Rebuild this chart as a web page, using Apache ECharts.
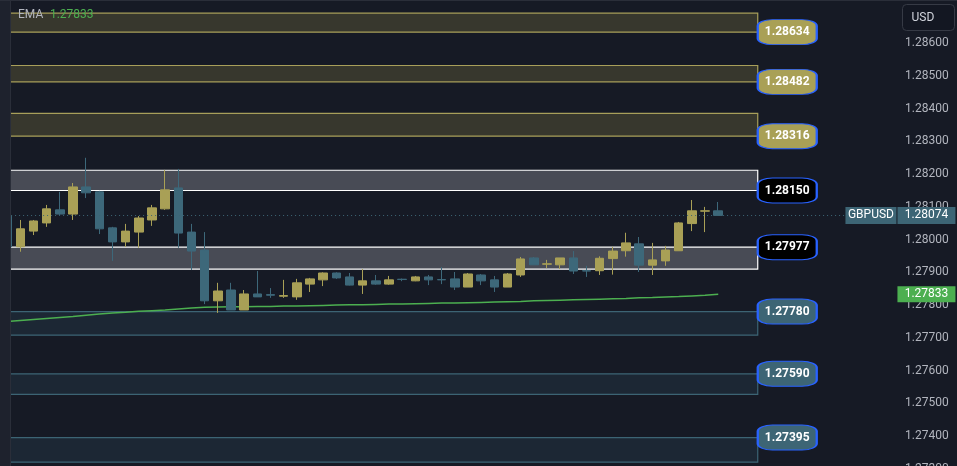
<!DOCTYPE html>
<html><head><meta charset="utf-8">
<script src="https://cdn.jsdelivr.net/npm/echarts@6/dist/echarts.min.js"></script>
<style>html,body{margin:0;padding:0;background:#161a25;}#c{width:957px;height:466px;}</style>
</head><body><div id="c"></div><script>
// Candles: [open, close, low, high]
const candles = [
  [1.28072, 1.27978, 1.27975, 1.28080],
  [1.27978, 1.28033, 1.27963, 1.28060],
  [1.28026, 1.28057, 1.28014, 1.28060],
  [1.28051, 1.28094, 1.28039, 1.28106],
  [1.28091, 1.28078, 1.28075, 1.28146],
  [1.28078, 1.28161, 1.28060, 1.28173],
  [1.28161, 1.28143, 1.28127, 1.28250],
  [1.28146, 1.28033, 1.28017, 1.28149],
  [1.28036, 1.27993, 1.27935, 1.28039],
  [1.27993, 1.28026, 1.27978, 1.28048],
  [1.28023, 1.28066, 1.27975, 1.28072],
  [1.28060, 1.28097, 1.28042, 1.28106],
  [1.28094, 1.28152, 1.28091, 1.28213],
  [1.28158, 1.28020, 1.27975, 1.28216],
  [1.28023, 1.27965, 1.27907, 1.28048],
  [1.27968, 1.27813, 1.27803, 1.28023],
  [1.27813, 1.27843, 1.27776, 1.27868],
  [1.27846, 1.27785, 1.27785, 1.27868],
  [1.27785, 1.27834, 1.27785, 1.27846],
  [1.27834, 1.27825, 1.27825, 1.27904],
  [1.27832, 1.27830, 1.27822, 1.27852],
  [1.27827, 1.27829, 1.27822, 1.27877],
  [1.27825, 1.27868, 1.27816, 1.27880],
  [1.27864, 1.27880, 1.27840, 1.27883],
  [1.27877, 1.27898, 1.27858, 1.27900],
  [1.27898, 1.27883, 1.27880, 1.27900],
  [1.27886, 1.27861, 1.27860, 1.27898],
  [1.27861, 1.27874, 1.27834, 1.27910],
  [1.27874, 1.27864, 1.27862, 1.27892],
  [1.27864, 1.27877, 1.27862, 1.27889],
  [1.27879, 1.27878, 1.27873, 1.27881],
  [1.27874, 1.27886, 1.27873, 1.27889],
  [1.27886, 1.27877, 1.27861, 1.27892],
  [1.27878, 1.27877, 1.27864, 1.27916],
  [1.27880, 1.27855, 1.27846, 1.27901],
  [1.27855, 1.27895, 1.27855, 1.27898],
  [1.27892, 1.27874, 1.27861, 1.27895],
  [1.27877, 1.27855, 1.27840, 1.27889],
  [1.27855, 1.27895, 1.27855, 1.27898],
  [1.27892, 1.27941, 1.27886, 1.27947],
  [1.27944, 1.27923, 1.27923, 1.27947],
  [1.27925, 1.27926, 1.27913, 1.27938],
  [1.27923, 1.27944, 1.27910, 1.27944],
  [1.27944, 1.27904, 1.27895, 1.27965],
  [1.27905, 1.27904, 1.27886, 1.27920],
  [1.27905, 1.27943, 1.27892, 1.27949],
  [1.27942, 1.27965, 1.27893, 1.27978],
  [1.27966, 1.27990, 1.27948, 1.28021],
  [1.27987, 1.27922, 1.27901, 1.28008],
  [1.27922, 1.27938, 1.27892, 1.27990],
  [1.27935, 1.27968, 1.27920, 1.27981],
  [1.27966, 1.28051, 1.27966, 1.28054],
  [1.28049, 1.28088, 1.28026, 1.28121],
  [1.28087, 1.28088, 1.28023, 1.28100],
  [1.28088, 1.28074, 1.28074, 1.28115]
];
const emaValues = [
  1.27750, 1.27753, 1.27756, 1.27759, 1.27762, 1.27765, 1.27769, 1.27773, 1.27776, 1.27778,
  1.27781, 1.27783, 1.27785, 1.27788, 1.27791, 1.27793, 1.27794, 1.27795, 1.27795, 1.27796,
  1.27796, 1.27797, 1.27797, 1.27798, 1.27799, 1.27800, 1.27801, 1.27801, 1.27802, 1.27803,
  1.27803, 1.27804, 1.27805, 1.27806, 1.27806, 1.27807, 1.27808, 1.27809, 1.27810, 1.27811,
  1.27813, 1.27814, 1.27815, 1.27816, 1.27817, 1.27818, 1.27819, 1.27820, 1.27822, 1.27823,
  1.27825, 1.27826, 1.27828, 1.27830, 1.27833
];
// Zones
const bandTops    = [1.28692, 1.28532, 1.28386, 1.28212, 1.27977, 1.27780, 1.27590, 1.27395];
const bandBottoms = [1.28634, 1.28482, 1.28316, 1.28150, 1.27910, 1.27708, 1.27527, 1.27320];
const levelValues = [1.28634, 1.28482, 1.28316, 1.28150, 1.27977, 1.27780, 1.27590, 1.27395];
const bandKinds   = ['gold', 'gold', 'gold', 'grey', 'grey', 'blue', 'blue', 'blue'];
const lastPrice = 1.28074;
const symbolName = 'GBPUSD';
const currency = 'USD';
const yMin = 1.273, yMax = 1.288, yStep = 0.001;
const slotCount = 72;

const categories = [];
for (let i = 0; i < slotCount; i++) categories.push(String(i));

const styles = {
  gold: { fill: '#37372d', border: '#a89f5a', label: '#a9a056', text: '#ffffff' },
  grey: { fill: '#484b55', border: '#ffffff', label: '#000000', text: '#ffffff' },
  blue: { fill: '#1c2734', border: '#3c6474', label: '#3d6575', text: '#ffffff' }
};
const bandEndCat = '57';
const labelCat = '70';
const FONT = 'Roboto, "Liberation Sans", sans-serif';

const areaData = bandTops.map((t, i) => {
  const s = styles[bandKinds[i]];
  return [
    { yAxis: t, itemStyle: { color: s.fill, borderColor: s.border, borderWidth: 1.2 } },
    { xAxis: bandEndCat, yAxis: bandBottoms[i] }
  ];
});
const levelPoints = levelValues.map((v, i) => {
  const s = styles[bandKinds[i]];
  return {
    coord: [bandEndCat, v],
    value: v.toFixed(5),
    symbol: 'roundRect',
    symbolSize: [59, 25],
    symbolOffset: [29.5, 0],
    itemStyle: { color: s.label, borderColor: '#2962ff', borderWidth: 1.5 },
    label: { show: true, position: 'inside', formatter: v.toFixed(5), color: s.text,
             fontSize: 12, fontWeight: 'bold', fontFamily: FONT }
  };
});
const emaLast = emaValues[emaValues.length - 1];
const priceTags = [
  { coord: [labelCat, lastPrice], symbol: 'rect', symbolSize: [51, 17], symbolOffset: [-58, 0],
    itemStyle: { color: '#3d6575' },
    label: { show: true, position: 'inside', formatter: symbolName, color: '#fff', fontSize: 12, fontFamily: FONT } },
  { coord: [labelCat, lastPrice], symbol: 'rect', symbolSize: [58, 17], symbolOffset: [-2.5, 0],
    itemStyle: { color: '#3d6575' },
    label: { show: true, position: 'inside', formatter: lastPrice.toFixed(5), color: '#fff', fontSize: 12, fontFamily: FONT } },
  { coord: [labelCat, emaLast], symbol: 'rect', symbolSize: [58, 16], symbolOffset: [-2.5, 0],
    itemStyle: { color: '#4caf50' },
    label: { show: true, position: 'inside', formatter: emaLast.toFixed(5), color: '#fff', fontSize: 12, fontFamily: FONT } }
];

const chart = echarts.init(document.getElementById('c'), null, { renderer: 'canvas' });
chart.setOption({
  backgroundColor: '#161a25',
  animation: false,
  grid: { left: 0.5, right: 8.3, top: -22.2, bottom: -2.7, containLabel: false, outerBoundsMode: 'none' },
  xAxis: { type: 'category', data: categories, show: false, boundaryGap: true },
  yAxis: {
    type: 'value', position: 'right', min: yMin, max: yMax, interval: yStep, scale: true,
    axisLine: { show: false }, axisTick: { show: false }, splitLine: { show: false },
    axisLabel: { inside: true, margin: 0, color: '#b2b5be', fontSize: 12, fontFamily: FONT,
                 formatter: v => (v > 1.2865 ? '' : v.toFixed(5)) }
  },
  series: [
    { type: 'line', data: [], z: 1, silent: true,
      markArea: { silent: true, data: areaData },
      markLine: { silent: true, symbol: 'none', label: { show: false },
        lineStyle: { color: '#3d6575', type: [1, 3], width: 1 },
        data: [[{ coord: ['0', lastPrice] }, { coord: [String(slotCount - 1), lastPrice] }]] } },
    { type: 'line', data: emaValues, z: 2, showSymbol: false, silent: true,
      lineStyle: { color: '#4caf50', width: 1.5 } },
    { type: 'candlestick', data: candles, z: 3, barWidth: 9, silent: true,
      itemStyle: { color: '#a9a056', color0: '#3d687a', borderColor: '#a9a056', borderColor0: '#3d687a', borderWidth: 1 } },
    { type: 'line', data: [], z: 5, silent: true,
      markPoint: { silent: true, data: levelPoints.concat(priceTags) } }
  ],
  graphic: { elements: [
    { type: 'rect', left: 0, top: 0, shape: { width: 10, height: 466 }, style: { fill: '#1e222d' }, z: 100 },
    { type: 'rect', left: 10, top: 0, shape: { width: 1, height: 466 }, style: { fill: '#2a2e39' }, z: 100 },
    { type: 'rect', left: 0, top: 0, shape: { width: 957, height: 1 }, style: { fill: '#2a2e39' }, z: 100 },
    { type: 'text', left: 18, top: 9, z: 100,
      style: { text: '{a|EMA}  {b|' + emaLast.toFixed(5) + '}', rich: {
        a: { fill: '#b2b5be', fontSize: 12, fontFamily: FONT },
        b: { fill: '#4caf50', fontSize: 12, fontFamily: FONT } } } },
    { type: 'group', left: 902, top: 4, z: 100, children: [
      { type: 'rect', shape: { x: 0, y: 0, width: 52, height: 26, r: 4 },
        style: { fill: '#131722', stroke: '#363a45', lineWidth: 1 } },
      { type: 'text', x: 9, y: 7, style: { text: currency, fill: '#d1d4dc', fontSize: 12, fontFamily: FONT } }
    ] }
  ] }
});
</script></body></html>
